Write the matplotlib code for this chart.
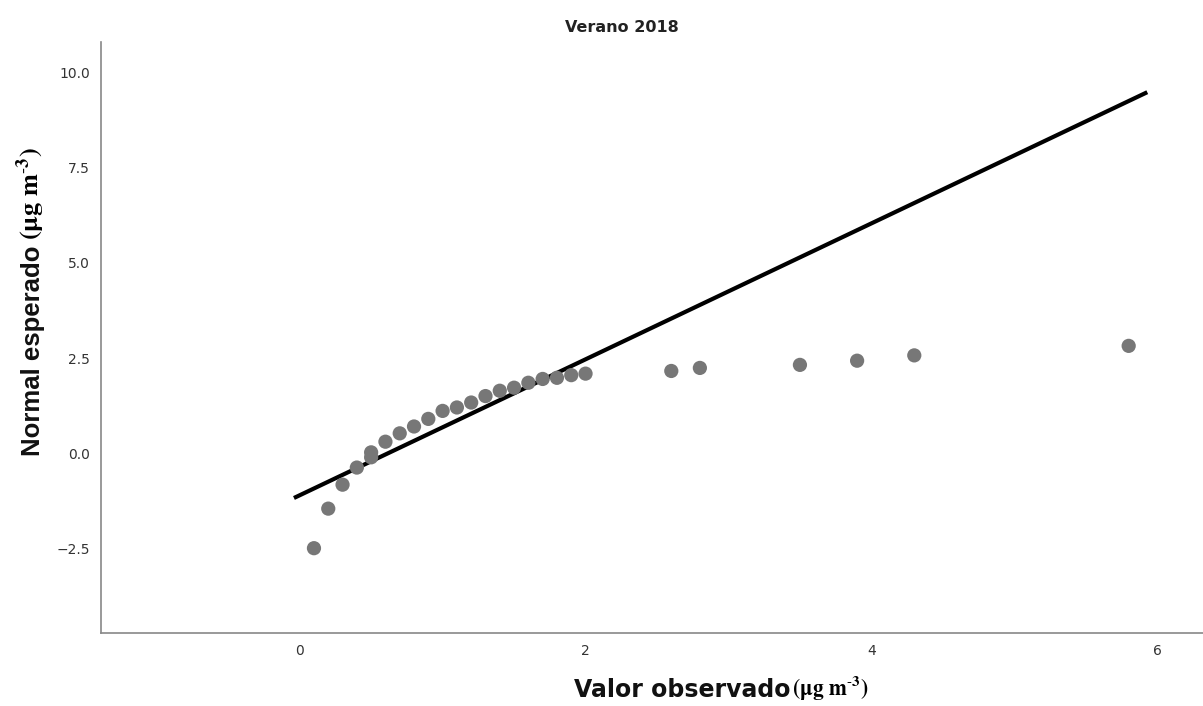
import matplotlib
matplotlib.use("Agg")
import matplotlib.pyplot as plt

# observed values vs expected normal (Q-Q plot, verano 2018)
observado = [0.1, 0.2, 0.3, 0.4, 0.5, 0.5, 0.6, 0.7, 0.8, 0.9, 1.0, 1.1, 1.2, 1.3,
             1.4, 1.5, 1.6, 1.7, 1.8, 1.9, 2.0, 2.6, 2.8, 3.5, 3.9, 4.3, 5.8]
esperado = [-2.50, -1.46, -0.83, -0.38, -0.11, 0.02, 0.30, 0.52, 0.70, 0.90, 1.11,
            1.20, 1.33, 1.50, 1.64, 1.72, 1.85, 1.95, 1.98, 2.05, 2.09, 2.16, 2.24,
            2.32, 2.43, 2.57, 2.82]

# reference line
linea_x = [-0.04, 5.93]
linea_y = [-1.18, 9.49]

xticks = [0, 2, 4, 6]
yticks = [-2.5, 0.0, 2.5, 5.0, 7.5, 10.0]

W, H = 1203, 706
fig = plt.figure(figsize=(W / 100, H / 100), dpi=100)
ax = fig.add_axes([101 / W, 1 - 633 / H, 1 - 101 / W, (633 - 42) / H])

ax.plot(linea_x, linea_y, color="black", linewidth=3, solid_capstyle="butt", zorder=2)
ax.scatter(observado, esperado, s=105, color="#777777", edgecolors="none", zorder=3)

ax.set_xlim(-1.39, 6.32)
ax.set_ylim(-4.73, 10.81)
ax.set_xticks(xticks)
ax.set_xticklabels([str(t) for t in xticks], family="DejaVu Sans", fontsize=10, color="#333333")
ax.set_yticks(yticks)
ax.set_yticklabels(["\u22122.5" if t < 0 else "%.1f" % t for t in yticks],
                   family="DejaVu Sans", fontsize=10, color="#333333")
ax.tick_params(axis="both", length=0)
ax.tick_params(axis="x", pad=8)
ax.tick_params(axis="y", pad=8)

for s in ["top", "right"]:
    ax.spines[s].set_visible(False)
for s in ["left", "bottom"]:
    ax.spines[s].set_color("#888888")
    ax.spines[s].set_linewidth(1.2)

plt.rcParams["mathtext.fontset"] = "stix"

# title
fig.text(622 / W, 1 - 28 / H, "Verano 2018", ha="center", va="center",
         fontsize=11.5, fontweight="bold", family="DejaVu Sans", color="#222222")

# y label: sans part + serif unit
fig.text(33 / W, 1 - 456 / H, "Normal esperado", rotation=90, ha="center", va="bottom",
         fontsize=18.5, fontweight="bold", family="Liberation Sans", color="#111111")
fig.text(31 / W, 1 - 240 / H, r"$\mathbf{(\mu g\ m^{\text{-}3})}$", rotation=90, ha="center",
         va="bottom", fontsize=19, color="black")

# x label: sans part + serif unit
fig.text(790 / W, 1 - 690 / H, "Valor observado", ha="right", va="center",
         fontsize=17, fontweight="bold", family="DejaVu Sans", color="#111111")
fig.text(792 / W, 1 - 687 / H, r"$\mathbf{(\mu g\ m^{\text{-}3})}$", ha="left", va="center",
         fontsize=15.5, color="black")

fig.savefig("out.png", dpi=100)
